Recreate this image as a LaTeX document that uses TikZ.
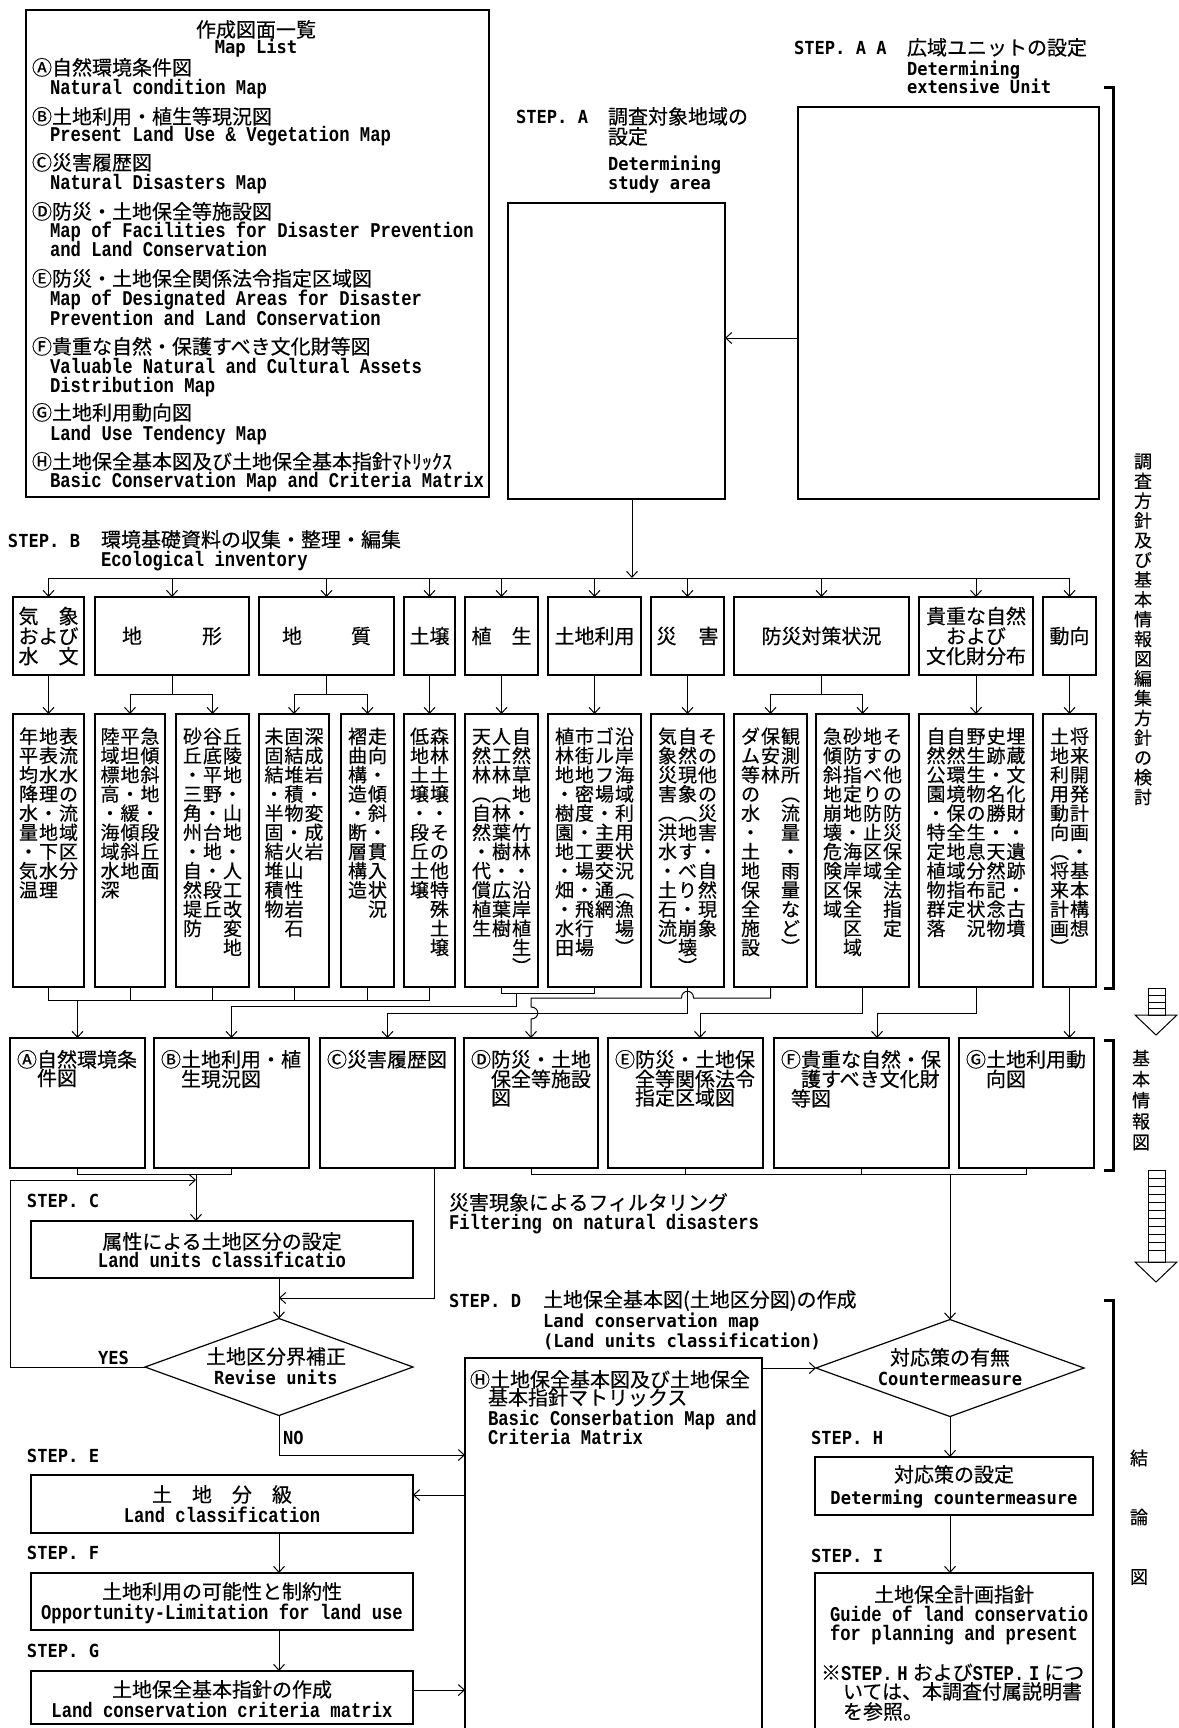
\documentclass[tikz,border=0pt]{standalone}
\usepackage{fontspec}
\setmainfont{Noto Sans CJK JP}[FakeBold=0.4]
\newfontfamily\en[FakeStretch=0.82]{Liberation Mono}
\newfontfamily\es[FakeStretch=0.95]{DejaVu Sans Mono}
\usetikzlibrary{arrows.meta,shapes.geometric,calc}
\newcommand\fj{\fontsize{20}{18.5}\selectfont}
\newcommand\fe{\en\bfseries\fontsize{21}{19}\selectfont}
\newcommand\fs{\es\bfseries\fontsize{18}{19}\selectfont}
\newcommand\fv{\fontsize{19}{19.2}\selectfont}
\newdimen\vph \vph=15.5pt
\newdimen\vpd \vpd=3.7pt
\newdimen\vcw \vcw=20pt
\newcommand\vc[1]{\vtop{\offinterlineskip\vcA#1\relax}}
\def\vcA#1{\ifx\relax#1\else\hbox to\vcw{\vrule height\vph depth\vpd width0pt\hss\smash{#1}\hss}\expandafter\vcA\fi}
\newcommand\bx[5]{\node[box,anchor=north west,minimum width={(#4-#2)*1pt},minimum height={(#5-#3)*1pt}] (#1) at (#2,#3) {};}
\newcommand\tx[5][]{\node[txt,anchor=base west,#1] (#2) at (#3,#4) {#5};}
\newcommand\vt[2]{\node[txt,anchor=north,font=\fv] (t#1) at ($(#1.north)+(0,14)$) {#2};}
\begin{document}
\begin{tikzpicture}[x=1pt,y=-1pt,
  box/.style={draw,line width=1.2pt,inner sep=0pt,outer sep=0pt},
  ln/.style={line width=1pt},
  arr/.style={line width=1pt,-{Straight Barb[length=6pt,width=11pt]}},
  txt/.style={inner sep=0pt,outer sep=0pt,font=\fj},
  brk/.style={line width=3pt},
]
\useasboundingbox (0,0) rectangle (1178,1728);
\clip (0,0) rectangle (1178,1728);
% ---------------- map list
\bx{ML}{26}{10}{489}{497}
\tx[anchor=base]{mlt}{256}{37}{作成図面一覧}
\tx[anchor=base]{mle}{256}{54}{\fs Map List}
\tx{ml1}{32}{75}{Ⓐ自然環境条件図}
\tx{ml1e}{50}{95}{\fe Natural condition Map}
\tx{ml2}{32}{124}{Ⓑ土地利用・植生等現況図}
\tx{ml2e}{50}{142}{\fe Present Land Use \& Vegetation Map}
\tx{ml3}{32}{170}{Ⓒ災害履歴図}
\tx{ml3e}{50}{190}{\fe Natural Disasters Map}
\tx{ml4}{32}{219}{Ⓓ防災・土地保全等施設図}
\tx{ml4e}{50}{238}{\fe Map of Facilities for Disaster Prevention}
\tx{ml4f}{50}{257}{\fe and Land Conservation}
\tx{ml5}{32}{286}{Ⓔ防災・土地保全関係法令指定区域図}
\tx{ml5e}{50}{305}{\fe Map of Designated Areas for Disaster}
\tx{ml5f}{50}{325}{\fe Prevention and Land Conservation}
\tx{ml6}{32}{354}{Ⓕ貴重な自然・保護すべき文化財等図}
\tx{ml6e}{50}{373}{\fe Valuable Natural and Cultural Assets}
\tx{ml6f}{50}{392}{\fe Distribution Map}
\tx{ml7}{32}{420}{Ⓖ土地利用動向図}
\tx{ml7e}{50}{440}{\fe Land Use Tendency Map}
\tx{ml8}{32}{469}{Ⓗ土地保全基本図及び土地保全基本指針ﾏﾄﾘｯｸｽ}
\tx{ml8e}{50}{487}{\fe Basic Conservation Map and Criteria Matrix}
% ---------------- step A / AA
\tx{sAA}{794}{55}{\fs STEP. A A}
\tx{sAA1}{907}{55}{広域ユニットの設定}
\tx{sAA2}{907}{76}{\fs Determining}
\tx{sAA3}{907}{94}{\fs extensive Unit}
\bx{AA}{798}{107}{1099}{499}
\tx{sA}{516}{124}{\fs STEP. A}
\tx{sA1}{608}{124}{調査対象地域の}
\tx{sA2}{608}{144}{設定}
\tx{sA3}{608}{171}{\fs Determining}
\tx{sA4}{608}{190}{\fs study area}
\bx{A}{508}{203}{725}{499}
\coordinate (kA) at (0,338);
\coordinate (xA) at (632,0);
\draw[arr] (AA.west |- kA) -- (A.east |- kA);
% ---------------- step B
\tx{sB}{8}{547}{\fs STEP. B}
\tx{sB1}{101}{547}{環境基礎資料の収集・整理・編集}
\tx{sB2}{101}{566}{\fe Ecological inventory}
\bx{c1}{13}{597}{84}{675}
\bx{c2}{95}{597}{249}{675}
\bx{c3}{259}{597}{394}{675}
\bx{c4}{404}{597}{455}{675}
\bx{c5}{465}{597}{538}{675}
\bx{c6}{548}{597}{641}{675}
\bx{c7}{651}{597}{724}{675}
\bx{c8}{734}{597}{909}{675}
\bx{c9}{919}{597}{1033}{675}
\bx{c10}{1043}{597}{1096}{675}
\node[txt,align=center,font={\fontsize{20}{20}\selectfont}] (tc1) at (c1) {\hbox to 60pt{気\hss 象}\\および\\\hbox to 60pt{水\hss 文}};
\node[txt] (tc2) at (c2) {\hbox to 100pt{地\hss 形}};
\node[txt] (tc3) at (c3) {\hbox to 89pt{地\hss 質}};
\node[txt] (tc4) at (c4) {土壌};
\node[txt] (tc5) at (c5) {\hbox to 60pt{植\hss 生}};
\node[txt] (tc6) at (c6) {土地利用};
\node[txt] (tc7) at (c7) {\hbox to 62pt{災\hss 害}};
\node[txt] (tc8) at (c8) {防災対策状況};
\node[txt,align=center,font={\fontsize{20}{20}\selectfont}] (tc9) at (c9) {貴重な自然\\および\\文化財分布};
\node[txt] (tc10) at (c10) {動向};
\bx{d1}{13}{714}{84}{987}
\bx{d2a}{95}{714}{165}{987}
\bx{d2b}{176}{714}{249}{987}
\bx{d3a}{259}{714}{329}{987}
\bx{d3b}{341}{714}{394}{987}
\bx{d4}{404}{714}{455}{987}
\bx{d5}{465}{714}{538}{987}
\bx{d6}{548}{714}{641}{987}
\bx{d7}{651}{714}{724}{987}
\bx{d8a}{734}{714}{807}{987}
\bx{d8b}{816}{714}{909}{987}
\bx{d9}{919}{714}{1033}{987}
\bx{d10}{1043}{714}{1096}{987}
\vt{d1}{\vc{年平均降水量・気温}\vc{地表水理・地下水理}\vc{表流水の流域区分}}
\vt{d2a}{\vc{陸域標高・海域水深}\vc{平坦地・緩傾斜地}\vc{急傾斜地・段丘面}}
\vt{d2b}{\vc{砂丘・三角州・自然堤防}\vc{谷底平野・台地・段丘}\vc{丘陵地・山地・人工改変地}}
\vt{d3a}{\vc{未固結・半固結堆積物}\vc{固結堆積物・火山性岩石}\vc{深成岩・変成岩}}
\vt{d3b}{\vc{褶曲構造・断層構造}\vc{走向・傾斜・貫入状況}}
\vt{d4}{\vc{低地土壌・段丘土壌}\vc{森林土壌・その他特殊土壌}}
\vt{d5}{\vc{天然林︵自然・代償植生}\vc{人工林︵林葉樹・広葉樹}\vc{自然草地・竹林・沿岸植生︶}}
\vt{d6}{\vc{植林地・樹園地・畑・水田}\vc{市街地密度・工場・飛行場}\vc{ゴルフ場・主要交通網}\vc{沿岸海域利用状況︵漁場︶}}
\vt{d7}{\vc{気象災害︵洪水・土石流︶}\vc{自然現象︵地すべり・崩壊︶}\vc{その他の災害・自然現象}}
\vt{d8a}{\vc{ダム等の水・土地保全施設}\vc{保安林}\vc{観測所︵流量・雨量など︶}}
\vt{d8b}{\vc{急傾斜地崩壊危険区域}\vc{砂防指定地・海岸保全区域}\vc{地すべり防止区域}\vc{その他の防災保全法指定}}
\vt{d9}{\vc{自然公園・特定植物群落}\vc{自然環境保全地域指定}\vc{野生生物の生息分布状況}\vc{史跡・名勝・天然記念物}\vc{埋蔵文化財・遺跡・古墳}}
\vt{d10}{\vc{土地利用動向︵将来計画︶}\vc{将来開発計画・基本構想}}
% distribution
\coordinate (top) at (0,578);
\draw[ln] (c1.north |- top) -- (c10.north |- top);
\foreach \n in {c1,c2,c3,c4,c5,c6,c7,c8,c9,c10} \draw[arr] (\n.north |- top) -- (\n.north);
\draw[arr] (xA |- A.south) -- (xA |- top);
\foreach \a/\b in {c1/d1,c4/d4,c5/d5,c6/d6,c7/d7,c9/d9,c10/d10} \draw[arr] (\a.south) -- (\b.north);
\foreach \c/\l/\r in {c2/d2a/d2b,c3/d3a/d3b,c8/d8a/d8b} {
  \draw[ln] (\c.south) -- ++(0,19) coordinate (s\c);
  \draw[arr] (s\c) -| (\l.north);
  \draw[arr] (s\c) -| (\r.north);
}
% ---------------- basic maps
\bx{mA}{10}{1038}{145}{1168}
\bx{mB}{154}{1038}{309}{1168}
\bx{mC}{320}{1038}{455}{1168}
\bx{mD}{464}{1038}{598}{1168}
\bx{mE}{608}{1038}{763}{1168}
\bx{mF}{774}{1038}{949}{1168}
\bx{mG}{959}{1038}{1094}{1168}
\node[txt,anchor=north west,align=left] (tmA) at ($(mA.north west)+(7,12)$) {Ⓐ自然環境条\\\hspace*{20pt}件図};
\node[txt,anchor=north west,align=left] (tmB) at ($(mB.north west)+(7,12)$) {Ⓑ土地利用・植\\\hspace*{20pt}生現況図};
\node[txt,anchor=north west,align=left] (tmC) at ($(mC.north west)+(7,12)$) {Ⓒ災害履歴図};
\node[txt,anchor=north west,align=left] (tmD) at ($(mD.north west)+(7,12)$) {Ⓓ防災・土地\\\hspace*{20pt}保全等施設\\\hspace*{20pt}図};
\node[txt,anchor=north west,align=left] (tmE) at ($(mE.north west)+(7,12)$) {Ⓔ防災・土地保\\\hspace*{20pt}全等関係法令\\\hspace*{20pt}指定区域図};
\node[txt,anchor=north west,align=left] (tmF) at ($(mF.north west)+(7,12)$) {Ⓕ貴重な自然・保\\\hspace*{20pt}護すべき文化財\\\hspace*{10pt}等図};
\node[txt,anchor=north west,align=left] (tmG) at ($(mG.north west)+(7,12)$) {Ⓖ土地利用動\\\hspace*{20pt}向図};
\coordinate (jA) at (0,1000);
\coordinate (jB) at (516,993);
\coordinate (hB) at (0,1006);
\coordinate (hD) at (0,998);
\coordinate (hC) at (0,1013);
\coordinate (xE) at (700,0);
\coordinate (xF) at (877,0);
\draw[ln] (d1.south) |- (d4.south |- jA) -- (d4.south);
\foreach \n in {d2a,d2b,d3a,d3b} \draw[ln] (\n.south) -- (\n.south |- jA);
\draw[arr] (mA.north |- jA) -- (mA.north);
\draw[ln] (d5.south) |- (d6.south |- jB) -- (d6.south);
\draw[arr] (jB) |- (mB.north |- hB) -- (mB.north);
\draw[arr] (d7.south) |- (mC.north |- hC) -- (mC.north);
\draw[arr] (d8a.south) |- ($(d7.south |- hD)+(6,0)$) .. controls +(0,-9) and +(0,-9) .. ($(d7.south |- hD)+(-6,0)$) -| ($(mD.north |- hC)+(0,-6)$) .. controls +(9,0) and +(9,0) .. ($(mD.north |- hC)+(0,6)$) -- (mD.north);
\draw[arr] (d8b.south) |- (xE |- hC) -- (xE |- mE.north);
\draw[arr] (d9.south) |- (xF |- hC) -- (xF |- mF.north);
\draw[arr] (d10.south) -- (d10.south |- mG.north);
% ---------------- step C ...
\tx{sC}{27}{1207}{\fs STEP. C}
\bx{C}{31}{1221}{413}{1278}
\tx[anchor=base]{tC1}{222}{1249}{属性による土地区分の設定}
\tx[anchor=base]{tC2}{222}{1267}{\fe Land units classificatio}
\node[diamond,draw,line width=1.2pt,minimum width=268pt,minimum height=97pt,inner sep=0pt,outer sep=0pt] (D1) at (279,1367) {};
\tx[anchor=base]{tD1a}{276}{1364}{土地区分界補正}
\tx[anchor=base]{tD1b}{276}{1384}{\fs Revise units}
\tx{yes}{98}{1364}{\fs YES}
\tx{no}{283}{1444}{\fs NO}
\coordinate (jAB) at (0,1174);
\coordinate (xC) at (196,0);
\coordinate (yl) at (10,1180);
\coordinate (xCC) at (434,0);
\coordinate (hF) at (0,1298);
\coordinate (hN) at (0,1455);
\coordinate (hE) at (0,1495);
\coordinate (hG) at (0,1690);
\draw[ln] (mA.south) |- (mB.south |- jAB) -- (mB.south);
\draw[arr] (xC |- jAB) -- (xC |- C.north);
\draw[arr] (D1.west) -| (yl) -- (xC |- yl);
\draw[arr] (xCC |- mC.south) |- (D1.north |- hF);
\draw[arr] (D1.north |- C.south) -- (D1.north);
\tx{sFl1}{449}{1210}{災害現象によるフィルタリング}
\tx{sFl2}{449}{1229}{\fe Filtering on natural disasters}
\tx{sD}{449}{1307}{\fs STEP. D}
\tx{sD1}{543}{1307}{土地保全基本図(土地区分図)の作成}
\tx{sD2}{543}{1327}{\fs Land conservation map}
\tx{sD3}{543}{1347}{\fs (Land units classification)}
\bx{H}{465}{1358}{762}{1745}
\tx{tH1}{470}{1387}{Ⓗ土地保全基本図及び土地保全}
\tx{tH2}{488}{1405}{基本指針マトリックス}
\tx{tH3}{488}{1425}{\fe Basic Conserbation Map and}
\tx{tH4}{488}{1444}{\fe Criteria Matrix}
\tx{sE}{27}{1462}{\fs STEP. E}
\bx{E}{31}{1475}{413}{1533}
\tx[anchor=base]{tE1}{222}{1502}{土　地　分　級}
\tx[anchor=base]{tE2}{222}{1522}{\fe Land classification}
\tx{sF}{27}{1559}{\fs STEP. F}
\bx{F}{31}{1573}{413}{1630}
\tx[anchor=base]{tF1}{222}{1599}{土地利用の可能性と制約性}
\tx[anchor=base]{tF2}{222}{1619}{\fe Opportunity-Limitation for land use}
\tx{sG}{27}{1657}{\fs STEP. G}
\bx{G}{31}{1671}{413}{1724}
\tx[anchor=base]{tG1}{222}{1697}{土地保全基本指針の作成}
\tx[anchor=base]{tG2}{222}{1717}{\fe Land conservation criteria matrix}
\draw[arr] (D1.south) |- (H.west |- hN);
\draw[arr] (H.west |- hE) -- (E.east |- hE);
\draw[arr] (D1.south |- E.south) -- (D1.south |- F.north);
\draw[arr] (D1.south |- F.south) -- (D1.south |- G.north);
\draw[arr] (G.east |- hG) -- (H.west |- hG);
% ---------------- right part
\node[diamond,draw,line width=1.2pt,minimum width=268pt,minimum height=97pt,inner sep=0pt,outer sep=0pt] (D2) at (950,1368) {};
\tx[anchor=base]{tD2a}{950}{1365}{対応策の有無}
\tx[anchor=base]{tD2b}{950}{1385}{\fs Countermeasure}
\coordinate (jR) at (0,1174);
\draw[ln] (mD.south) |- (mG.south |- jR) -- (mG.south);
\draw[ln] (mE.south) -- (mE.south |- jR);
\draw[ln] (mF.south) -- (mF.south |- jR);
\draw[arr] (D2.north |- jR) -- (D2.north);
\draw[arr] (H.east |- D2.west) -- (D2.west);
\tx{sH}{811}{1444}{\fs STEP. H}
\bx{SH}{815}{1457}{1093}{1515}
\tx[anchor=base]{tSH1}{954}{1482}{対応策の設定}
\tx[anchor=base]{tSH2}{954}{1504}{\fs Determing countermeasure}
\tx{sI}{811}{1562}{\fs STEP. I}
\bx{SI}{815}{1573}{1093}{1745}
\tx[anchor=base]{tSI1}{954}{1602}{土地保全計画指針}
\tx{tSI2}{830}{1621}{\fe Guide of land conservatio}
\tx{tSI3}{830}{1640}{\fe for planning and present}
\tx{tSI4}{821}{1680}{※{\fe STEP.\makebox[20pt]{H}}および{\fe STEP.\makebox[20pt]{I}}につ}
\tx{tSI5}{843}{1699}{いては、本調査付属説明書}
\tx{tSI6}{843}{1719}{を参照。}
\draw[arr] (D2.south) -- (D2.south |- SH.north);
\draw[arr] (D2.south |- SH.south) -- (D2.south |- SI.north);
% ---------------- brackets and side labels
\draw[brk] (1104,88) -- (1113,88) -- (1113,988) -- (1104,988);
\draw[brk] (1104,1040) -- (1113,1040) -- (1113,1170) -- (1104,1170);
\draw[brk] (1104,1300) -- (1113,1300) -- (1113,1745);
\node[txt,anchor=north,font=\fontsize{18}{18}\selectfont] (vt1) at (1143,452) {\vph=16pt\vpd=3.75pt\vc{調査方針及び基本情報図編集方針の検討}};
\node[txt,anchor=north,font=\fontsize{18}{18}\selectfont] (vt2) at (1141,1048) {\vph=17pt\vpd=4pt\vc{基本情報図}};
\node[txt,font=\fontsize{18}{18}\selectfont] (vk1) at (1139,1458) {結};
\node[txt,font=\fontsize{18}{18}\selectfont] (vk2) at (1139,1517) {論};
\node[txt,font=\fontsize{18}{18}\selectfont] (vk3) at (1139,1577) {図};
% hollow arrows
\draw[line width=1pt] (1148,988) rectangle (1165,1015);
\foreach \y in {995,1002,1008} \draw[line width=1pt] (1148,\y) -- (1165,\y);
\draw[line width=1pt,line join=miter] (1135,1015) -- (1177,1015) -- (1156,1035) -- cycle;
\draw[line width=1pt] (1148,1170) rectangle (1165,1262);
\foreach \y in {1178,1186,...,1256} \draw[line width=1pt] (1148,\y) -- (1165,\y);
\draw[line width=1pt,line join=miter] (1135,1262) -- (1177,1262) -- (1156,1282) -- cycle;
\end{tikzpicture}
\end{document}
